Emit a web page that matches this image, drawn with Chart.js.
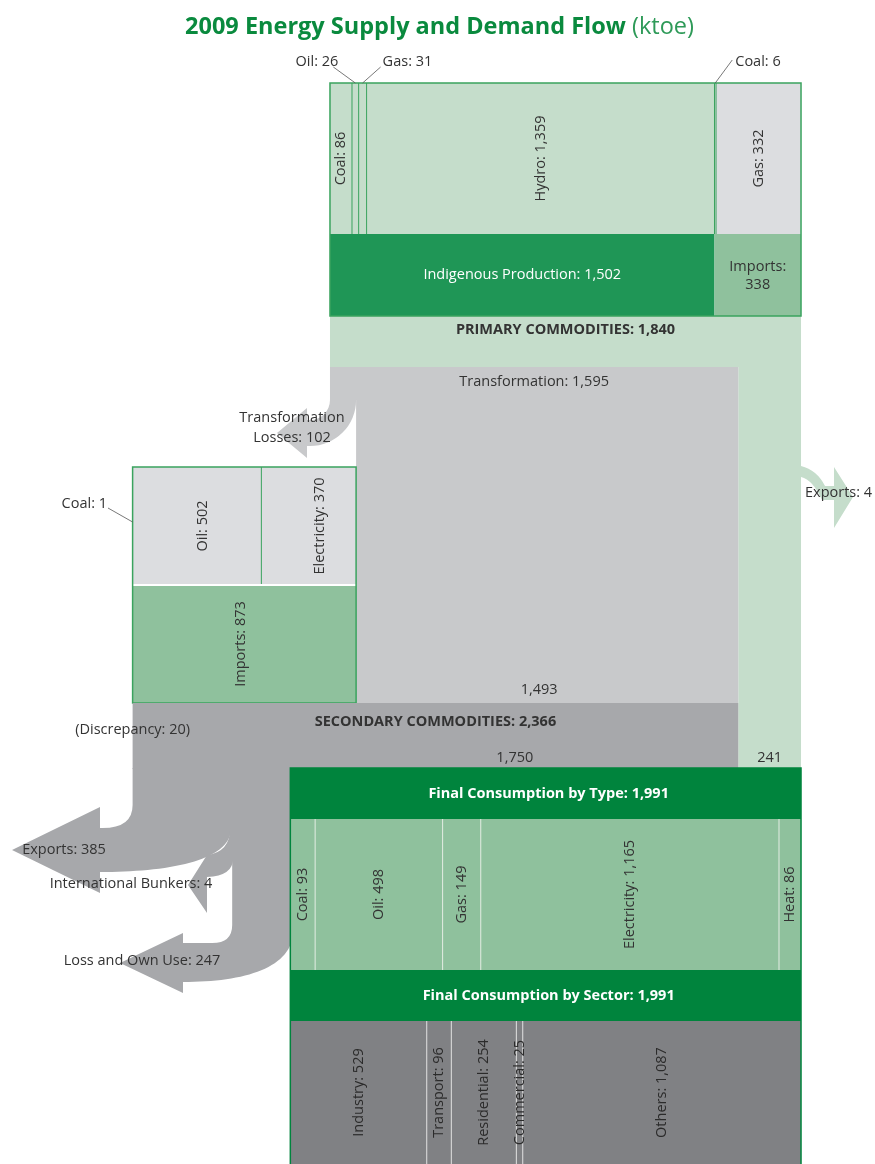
<!DOCTYPE html>
<html>
<head>
<meta charset="utf-8">
<title>2009 Energy Supply and Demand Flow</title>
<script src="https://cdn.jsdelivr.net/npm/chart.js@4.4.1/dist/chart.umd.min.js"></script>
<style>
  html, body { margin: 0; padding: 0; background: #fff; }
  #flow { display: block; }
</style>
</head>
<body>
<canvas id="flow" width="875" height="1164"></canvas>
<script>
// all values in ktoe
const primaryLabels = ['Coal', 'Oil', 'Gas', 'Hydro', 'Coal', 'Gas'];
const primaryValues = [86, 26, 31, 1359, 6, 332];
const primarySource = [0, 0, 0, 0, 1, 1]; // index into supplyLabels
const supplyLabels = ['Indigenous Production', 'Imports'];
const supplyValues = [1502, 338];
const primaryTotal = 1840;

const transformLabels = ['Transformation', 'Transformation Losses', 'Output'];
const transformValues = [1595, 102, 1493];
const primaryExports = 4;
const primaryDirect = 241;

const secondaryLabels = ['Coal', 'Oil', 'Electricity'];
const secondaryValues = [1, 502, 370];
const secondaryImports = 873;
const secondaryTotal = 2366;

const outflowLabels = ['Exports', 'International Bunkers', 'Loss and Own Use'];
const outflowValues = [385, 4, 247];
const discrepancy = 20;
const secondaryToFinal = 1750;

const typeLabels = ['Coal', 'Oil', 'Gas', 'Electricity', 'Heat'];
const typeValues = [93, 498, 149, 1165, 86];
const sectorLabels = ['Industry', 'Transport', 'Residential', 'Commercial', 'Others'];
const sectorValues = [529, 96, 254, 25, 1087];
const finalTotal = 1991;

// layout: x axis is ktoe, y axis is the vertical position of each band
const X_MIN = -1289, X_MAX = 2129;
const R = {
  top: 83, fuelBottom: 234, supplyBottom: 316, transTop: 367, lossTurn: 400,
  secTop: 467, secMid: 585, bandTop: 703, finalTop: 768,
  typeTop: 819, typeBottom: 970, sectorTop: 1021, bottom: 1164
};
const FONT = '"Open Sans", "Noto Sans", sans-serif';
const FS = 14.5;
const C = {
  text: '#333333', title: '#0a8a3e', border: '#3aa35e', paleGreen: '#c5ddcb',
  paleGrey: '#dcdde0', indigenous: '#1f9656', imports: '#8fc19d', transform: '#c8c9cb',
  secondary: '#a7a8ab', header: '#00843d', sector: '#808184'
};

const fmt = v => v.toLocaleString('en-US');
const cum = (arr, start = 0) => arr.reduce((a, v) => { a.push(a[a.length - 1] + v); return a; }, [start]);

const flowPlugin = {
  id: 'energyFlow',
  beforeDatasetsDraw(chart) {
    const ctx = chart.ctx;
    const X = v => chart.scales.x.getPixelForValue(v);
    const Y = v => chart.scales.y.getPixelForValue(v);

    const rect = (x0, x1, y0, y1, fill) => { ctx.fillStyle = fill; ctx.fillRect(x0, y0, x1 - x0, y1 - y0); };
    const line = (x0, y0, x1, y1, color, w) => {
      ctx.strokeStyle = color; ctx.lineWidth = w;
      ctx.beginPath(); ctx.moveTo(x0, y0); ctx.lineTo(x1, y1); ctx.stroke();
    };
    const frame = (x0, x1, y0, y1, color) => { ctx.strokeStyle = color; ctx.lineWidth = 1.5; ctx.strokeRect(x0, y0, x1 - x0, y1 - y0); };
    const text = (s, x, y, o = {}) => {
      ctx.save();
      ctx.font = `${o.bold ? 'bold ' : ''}${o.size || FS}px ${FONT}`;
      ctx.fillStyle = o.color || C.text;
      ctx.textAlign = o.align || 'center';
      ctx.textBaseline = 'middle';
      ctx.translate(x, y);
      if (o.vertical) ctx.rotate(-Math.PI / 2);
      ctx.fillText(s, 0, 0);
      ctx.restore();
    };

    // title
    ctx.save();
    ctx.textBaseline = 'middle';
    const t1 = '2009 Energy Supply and Demand Flow', t2 = ' (ktoe)';
    ctx.font = `bold 23.5px ${FONT}`;
    const w1 = ctx.measureText(t1).width;
    ctx.font = `23.5px ${FONT}`;
    const w2 = ctx.measureText(t2).width;
    const tx = chart.width / 2 - (w1 + w2) / 2 + 2;
    ctx.fillStyle = C.title;
    ctx.font = `bold 23.5px ${FONT}`;
    ctx.fillText(t1, tx, 27);
    ctx.font = `23.5px ${FONT}`;
    ctx.fillStyle = '#2e9a58';
    ctx.fillText(t2, tx + w1, 27);
    ctx.restore();

    // primary band and the part that bypasses transformation
    const tEnd = transformValues[0];
    rect(X(0), X(primaryTotal), Y(R.supplyBottom), Y(R.transTop), C.paleGreen);
    rect(X(tEnd), X(primaryTotal), Y(R.transTop), Y(R.finalTop), C.paleGreen);

    // primary exports arrow (right)
    const pr = X(primaryTotal);
    ctx.fillStyle = C.paleGreen;
    ctx.beginPath();
    ctx.moveTo(pr, 466);
    ctx.quadraticCurveTo(pr + 16, 470, pr + 24, 486);
    ctx.lineTo(pr + 33, 486);
    ctx.lineTo(pr + 33, 467);
    ctx.lineTo(pr + 52, 497);
    ctx.lineTo(pr + 33, 528);
    ctx.lineTo(pr + 33, 500);
    ctx.lineTo(pr + 21, 500);
    ctx.quadraticCurveTo(pr + 12, 480, pr, 477);
    ctx.closePath();
    ctx.fill();

    // transformation block + losses
    const lossEnd = transformValues[1];
    rect(X(0), X(tEnd), Y(R.transTop), Y(R.lossTurn), C.transform);
    rect(X(lossEnd), X(tEnd), Y(R.lossTurn), Y(R.bandTop), C.transform);
    {
      const l0 = X(0), l1 = X(lossEnd), ty = Y(R.lossTurn);
      const ri = 20, ro = ri + (l1 - l0), cx = l0 - ri;
      ctx.fillStyle = C.transform;
      ctx.beginPath();
      ctx.moveTo(l0, ty - 1);
      ctx.arc(cx, ty, ri, 0, Math.PI / 2);
      ctx.lineTo(cx - 3, ty + ri);
      ctx.lineTo(cx - 3, ty + ri - 12);
      ctx.lineTo(cx - 33, ty + (ri + ro) / 2);
      ctx.lineTo(cx - 3, ty + ro + 12);
      ctx.lineTo(cx - 3, ty + ro);
      ctx.lineTo(cx, ty + ro);
      ctx.arc(cx, ty, ro, Math.PI / 2, 0, true);
      ctx.lineTo(l1, ty - 1);
      ctx.closePath();
      ctx.fill();
    }

    // top box: primary commodities by fuel and by supply
    const pEdges = cum(primaryValues);
    primaryValues.forEach((v, i) => {
      rect(X(pEdges[i]), X(pEdges[i + 1]), Y(R.top), Y(R.fuelBottom),
        primarySource[i] === 0 ? C.paleGreen : C.paleGrey);
    });
    const sEdges = cum(supplyValues);
    supplyValues.forEach((v, i) => {
      rect(X(sEdges[i]), X(sEdges[i + 1]), Y(R.fuelBottom), Y(R.supplyBottom),
        i === 0 ? C.indigenous : C.imports);
    });
    for (let i = 1; i < primaryValues.length; i++) {
      line(X(pEdges[i]), Y(R.top), X(pEdges[i]), Y(R.fuelBottom), C.border, 1);
    }
    frame(X(0), X(primaryTotal), Y(R.top), Y(R.supplyBottom), C.border);

    // secondary box: secondary commodities imported
    const sb0 = lossEnd - secondaryImports;
    const secEdges = cum(secondaryValues, sb0);
    rect(X(sb0), X(lossEnd), Y(R.secTop), Y(R.secMid), C.paleGrey);
    rect(X(sb0), X(lossEnd), Y(R.secMid), Y(R.bandTop), C.imports);
    line(X(secEdges[2]), Y(R.secTop), X(secEdges[2]), Y(R.secMid), C.border, 1);
    line(X(sb0), Y(R.secMid), X(lossEnd), Y(R.secMid), '#ffffff', 2);
    frame(X(sb0), X(lossEnd), Y(R.secTop), Y(R.bandTop), C.border);

    // secondary commodities band
    rect(X(sb0), X(sb0 + secondaryTotal), Y(R.bandTop), Y(R.finalTop) + 1, C.secondary);

    // outflows: exports, bunkers, loss and own use
    const oEdges = cum(outflowValues, sb0);
    const finalStart = primaryTotal - finalTotal;
    const ft = Y(R.finalTop);
    ctx.fillStyle = C.secondary;
    {
      const a = X(oEdges[0]), b = X(oEdges[1]);
      ctx.beginPath();
      ctx.moveTo(a, ft);
      ctx.lineTo(a, 805);
      ctx.quadraticCurveTo(a, 828, a - 30, 828);
      ctx.lineTo(100, 828);
      ctx.lineTo(100, 807);
      ctx.lineTo(12, 850);
      ctx.lineTo(100, 893);
      ctx.lineTo(100, 872);
      ctx.bezierCurveTo(165, 872, b, 862, b, 828);
      ctx.lineTo(b, ft);
      ctx.closePath();
      ctx.fill();
    }
    {
      const a = X(oEdges[1]) - 1, b = X(oEdges[2]) + 1;
      ctx.beginPath();
      ctx.moveTo(a, ft);
      ctx.lineTo(a, 828);
      ctx.quadraticCurveTo(a, 852, 207, 855);
      ctx.lineTo(188, 885);
      ctx.lineTo(207, 913);
      ctx.lineTo(207, 877);
      ctx.quadraticCurveTo(b, 876, b, 858);
      ctx.lineTo(b, ft);
      ctx.closePath();
      ctx.fill();
    }
    {
      const a = X(oEdges[2]), b = X(finalStart) + 2;
      ctx.beginPath();
      ctx.moveTo(a, ft);
      ctx.lineTo(a, 925);
      ctx.quadraticCurveTo(a, 943, a - 20, 943);
      ctx.lineTo(183, 943);
      ctx.lineTo(183, 933);
      ctx.lineTo(120, 963);
      ctx.lineTo(183, 993);
      ctx.lineTo(183, 982);
      ctx.bezierCurveTo(245, 982, b, 968, b, 930);
      ctx.lineTo(b, ft);
      ctx.closePath();
      ctx.fill();
    }

    // final consumption box
    const f0 = X(finalStart) - 1, f1 = X(primaryTotal);
    rect(f0, f1, Y(R.finalTop), Y(R.typeTop), C.header);
    rect(f0, f1, Y(R.typeTop), Y(R.typeBottom), C.imports);
    rect(f0, f1, Y(R.typeBottom), Y(R.sectorTop), C.header);
    rect(f0, f1, Y(R.sectorTop), Y(R.bottom), C.sector);
    const tyEdges = cum(typeValues, finalStart);
    for (let i = 1; i < typeValues.length; i++) {
      line(X(tyEdges[i]), Y(R.typeTop), X(tyEdges[i]), Y(R.typeBottom), '#e4ede4', 1);
    }
    const seEdges = cum(sectorValues, finalStart);
    for (let i = 1; i < sectorValues.length; i++) {
      line(X(seEdges[i]), Y(R.sectorTop), X(seEdges[i]), Y(R.bottom), '#e2e2e2', 1);
    }
    ctx.strokeStyle = C.header; ctx.lineWidth = 1.5;
    ctx.beginPath();
    ctx.moveTo(f0, Y(R.bottom)); ctx.lineTo(f0, Y(R.finalTop)); ctx.lineTo(f1, Y(R.finalTop)); ctx.lineTo(f1, Y(R.bottom));
    ctx.stroke();

    // ---- labels ----
    const fuelMid = (Y(R.top) + Y(R.fuelBottom)) / 2;
    primaryValues.forEach((v, i) => {
      if (X(pEdges[i + 1]) - X(pEdges[i]) > 18) {
        text(`${primaryLabels[i]}: ${fmt(v)}`, (X(pEdges[i]) + X(pEdges[i + 1])) / 2, fuelMid, { vertical: true });
      }
    });
    // callouts for thin primary cells
    const callouts = [
      { i: 1, dx: -17, side: 'right', lx: -22 },
      { i: 2, dx: 20, side: 'left', lx: 18 },
      { i: 4, dx: 20, side: 'left', lx: 17 }
    ];
    callouts.forEach(c => {
      const cxp = (X(pEdges[c.i]) + X(pEdges[c.i + 1])) / 2;
      text(`${primaryLabels[c.i]}: ${fmt(primaryValues[c.i])}`, cxp + c.dx, 62, { align: c.side });
      line(cxp + c.lx, c.i === 4 ? 60 : 67, cxp, Y(R.top), '#555', 0.8);
    });

    const supMid = (Y(R.fuelBottom) + Y(R.supplyBottom)) / 2;
    text(`${supplyLabels[0]}: ${fmt(supplyValues[0])}`, (X(sEdges[0]) + X(sEdges[1])) / 2, supMid, { color: '#ffffff' });
    const impX = (X(sEdges[1]) + X(sEdges[2])) / 2;
    text(`${supplyLabels[1]}:`, impX, supMid - 8);
    text(fmt(supplyValues[1]), impX, supMid + 10);

    text(`PRIMARY COMMODITIES: ${fmt(primaryTotal)}`, X(primaryTotal / 2), 330, { bold: true });
    text(`${transformLabels[0]}: ${fmt(tEnd)}`, X(tEnd / 2), 382);
    text('Transformation', X(0) - 38, 418);
    text(`Losses: ${fmt(lossEnd)}`, X(0) - 38, 438);
    text(`Exports: ${fmt(primaryExports)}`, pr + 4, 493, { align: 'left' });

    // secondary box labels
    const secMidY = (Y(R.secTop) + Y(R.secMid)) / 2;
    text(`${secondaryLabels[1]}: ${fmt(secondaryValues[1])}`, (X(secEdges[1]) + X(secEdges[2])) / 2 + 6, secMidY, { vertical: true });
    text(`${secondaryLabels[2]}: ${fmt(secondaryValues[2])}`, (X(secEdges[2]) + X(secEdges[3])) / 2 + 11, secMidY, { vertical: true });
    text(`Imports: ${fmt(secondaryImports)}`, (X(sb0) + X(lossEnd)) / 2 - 3, (Y(R.secMid) + Y(R.bandTop)) / 2, { vertical: true });
    text(`${secondaryLabels[0]}: ${fmt(secondaryValues[0])}`, 107, 504, { align: 'right' });
    line(108, 508, X(sb0), 522, '#555', 0.8);

    text(fmt(transformValues[2]), (X(lossEnd) + X(tEnd)) / 2 - 8, 690);
    text(`SECONDARY COMMODITIES: ${fmt(secondaryTotal)}`, (X(sb0) + X(sb0 + secondaryTotal)) / 2, 722, { bold: true });
    text(fmt(secondaryToFinal), (X(finalStart) + X(tEnd)) / 2, 758);
    text(fmt(primaryDirect), (X(tEnd) + X(primaryTotal)) / 2, 758);
    text(`(Discrepancy: ${fmt(discrepancy)})`, X(sb0), 730);

    text(`${outflowLabels[0]}: ${fmt(outflowValues[0])}`, 64, 850);
    text(`${outflowLabels[1]}: ${fmt(outflowValues[1])}`, 131, 884);
    text(`${outflowLabels[2]}: ${fmt(outflowValues[2])}`, 142, 961);

    // final consumption labels
    text(`Final Consumption by Type: ${fmt(finalTotal)}`, (f0 + f1) / 2 + 3, (Y(R.finalTop) + Y(R.typeTop)) / 2, { bold: true, color: '#ffffff' });
    text(`Final Consumption by Sector: ${fmt(finalTotal)}`, (f0 + f1) / 2 + 3, (Y(R.typeBottom) + Y(R.sectorTop)) / 2, { bold: true, color: '#ffffff' });
    const typeMid = (Y(R.typeTop) + Y(R.typeBottom)) / 2;
    typeValues.forEach((v, i) => {
      text(`${typeLabels[i]}: ${fmt(v)}`, (X(tyEdges[i]) + X(tyEdges[i + 1])) / 2, typeMid, { vertical: true });
    });
    const sectorMid = (Y(R.sectorTop) + Y(R.bottom)) / 2;
    sectorValues.forEach((v, i) => {
      text(`${sectorLabels[i]}: ${fmt(v)}`, (X(seEdges[i]) + X(seEdges[i + 1])) / 2, sectorMid, { vertical: true, color: '#2b2b2b' });
    });
  }
};

new Chart(document.getElementById('flow'), {
  type: 'scatter',
  data: { datasets: [{ data: [] }] },
  options: {
    responsive: false,
    animation: false,
    devicePixelRatio: 1,
    layout: { padding: 0 },
    plugins: { legend: { display: false }, tooltip: { enabled: false } },
    scales: {
      x: { type: 'linear', min: X_MIN, max: X_MAX, display: false },
      y: { type: 'linear', min: 0, max: R.bottom, reverse: true, display: false }
    }
  },
  plugins: [flowPlugin]
});
</script>
</body>
</html>
